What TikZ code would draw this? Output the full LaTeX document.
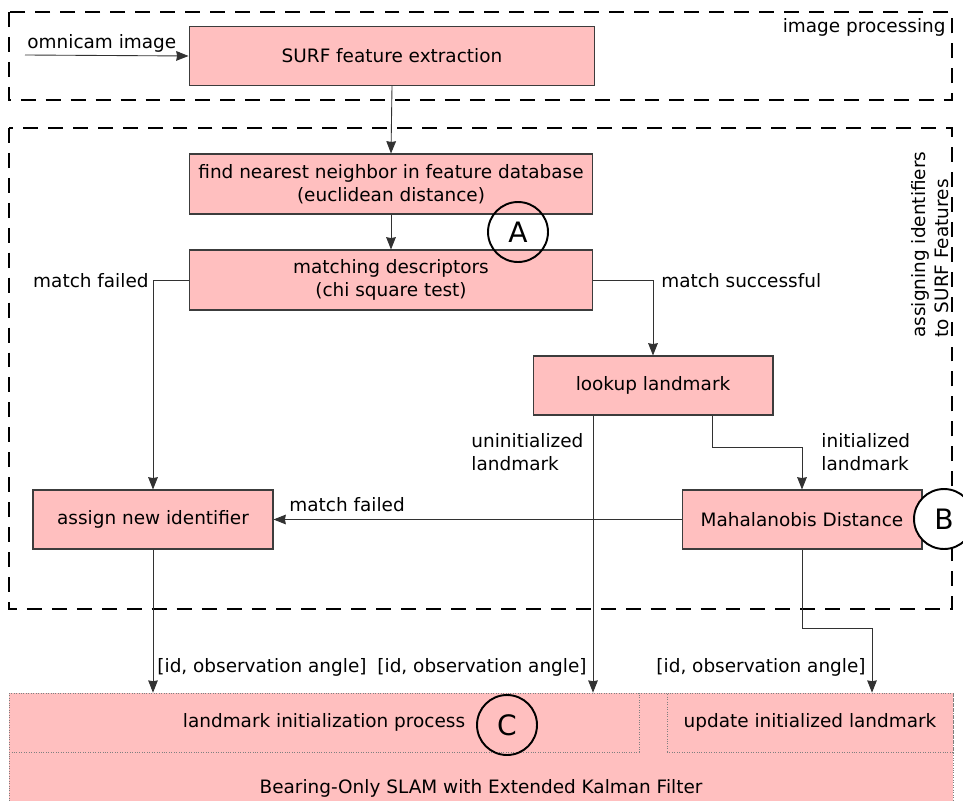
\documentclass[tikz,border=0pt]{standalone}
\usepackage{fontspec}
\setmainfont{DejaVu Sans}
\usetikzlibrary{calc,arrows.meta}
\definecolor{boxpink}{RGB}{255,191,191}
\definecolor{boxline}{RGB}{60,60,60}
\definecolor{wire}{RGB}{50,50,50}
\tikzset{
  proc/.style={draw=boxline, fill=boxpink, line width=0.6pt, minimum height=1.18cm, inner sep=0pt, align=center},
  part/.style={draw=gray, densely dotted, line width=0.4pt, fill=boxpink, minimum height=1.18cm, inner sep=0pt},
  lbl/.style={inner sep=0pt, align=left},
  marker/.style={circle, draw, line width=1.1pt, minimum size=1.2cm, inner sep=0pt, font=\fontsize{16}{16}\selectfont},
  region/.style={dash pattern=on 8.5pt off 5.7pt, line width=0.9pt},
}

\begin{document}
\begin{tikzpicture}[x=0.02cm,y=-0.02cm,>={Stealth[length=7pt,width=5.5pt,inset=0.5pt]},line width=0.5pt,font=\fontsize{10.5}{13}\selectfont]
  \useasboundingbox (0,0) rectangle (963,801);

  % 图像处理
  \draw[region] (9,12) rectangle (952,100);
  \node[lbl, anchor=east] (imgproc) at (946,27) {image processing};
  \coordinate (cam) at (25,55);
  \node[lbl, anchor=base west] (camlbl) at (27,48) {omnicam image};
  \node[proc, minimum width=8.12cm] (surf) at (392,56) {SURF feature extraction};
  \draw[->, wire] (cam) -- (surf.west);

  % 特征匹配
  \draw[region] (9,128) rectangle (952,609);
  \node[lbl, rotate=90, anchor=west] (assignid) at (930,338) {assigning identifiers\\to SURF Features};
  \node[proc, minimum width=8.08cm, minimum height=1.2cm] (near) at (391,184) {find nearest neighbor in feature database\\(euclidean distance)};
  \node[proc, minimum width=8.08cm, minimum height=1.2cm] (match) at (391,280) {matching descriptors\\(chi square test)};
  \node[proc, minimum width=4.8cm] (look) at (653,385.5) {lookup landmark};
  \node[proc, minimum width=4.8cm] (assign) at (153,519.5) {assign new identifier};
  \node[proc, minimum width=4.8cm] (maha) at (802,519.5) {Mahalanobis Distance};

  % SLAM
  \fill[boxpink] (9,693) rectangle (953,801);
  \draw[gray, densely dotted, line width=0.4pt] (9,801) -- (9,693) -- (953,693) -- (953,801);
  \node[part, minimum width=12.6cm] (initproc) at (324,722.5) {landmark initialization process};
  \node[part, minimum width=5.72cm] (updproc) at (810,722.5) {update initialized landmark};
  \node[lbl] (slam) at (481,788) {Bearing-Only SLAM with Extended Kalman Filter};

  % 连线
  \draw[->, wire] (surf.south) -- (near.north);
  \draw[->, wire] (near.south) -- (match.north);
  \draw[->, wire] (match.west) -| (assign.north);
  \node[lbl, anchor=east] (fail1) at (149,281) {match failed};
  \draw[->, wire] (match.east) -| (look.north);
  \node[lbl, anchor=west] (succ) at (661,281) {match successful};
  \coordinate (uninit) at ($(look.south)+(-60,0)$);
  \draw[->, wire] (uninit) -- (uninit |- initproc.north);
  \node[lbl, anchor=west] (uninitlbl) at (471,452) {uninitialized\\landmark};
  \draw[->, wire] ($(look.south)+(59,0)$) -- ++(0,32) -| (maha.north);
  \node[lbl, anchor=west] (initlbl) at (821,452) {initialized\\landmark};
  \draw[->, wire] (maha.west) -- (assign.east);
  \node[lbl, anchor=west] (fail2) at (289,505) {match failed};
  \draw[->, wire] (assign.south) -- (assign.south |- initproc.north);
  \node[lbl, anchor=west] (obs1) at (157,667) {[id, observation angle]};
  \node[lbl, anchor=east] (obs2) at (587,667) {[id, observation angle]};
  \draw[->, wire] (maha.south) -- ++(0,79) -| ($(updproc.north)+(62,0)$);
  \node[lbl, anchor=east] (obs3) at (866,667) {[id, observation angle]};

  % 标记
  \node[marker] (markA) at (518,232) {A};
  \node[marker, fill=white] (markB) at (944,519) {B};
  \node[marker] (markC) at (507,725) {C};
\end{tikzpicture}
\end{document}
